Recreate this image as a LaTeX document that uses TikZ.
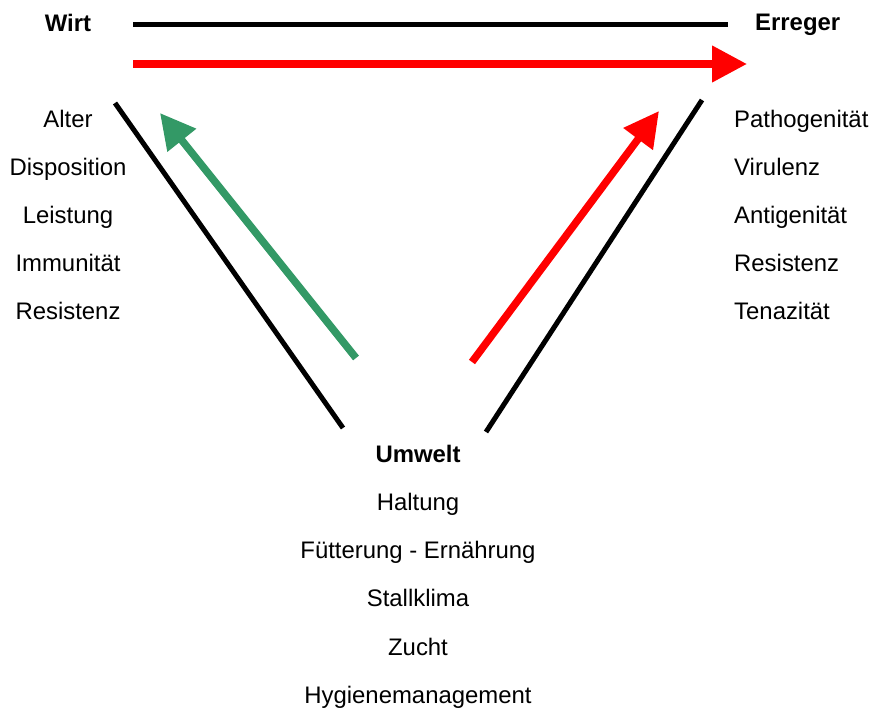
\documentclass[tikz,border=0pt]{standalone}
\usepackage{fontspec}
\setmainfont{Liberation Sans}
\usetikzlibrary{arrows.meta, positioning}
\definecolor{hostgreen}{HTML}{339966}
\definecolor{agentred}{HTML}{FF0000}

\begin{document}
\begin{tikzpicture}[
  x=1pt, y=-1pt,
  item/.style={anchor=base, inner sep=0pt, font=\fontsize{23.9}{28}\selectfont},
  ritem/.style={item, anchor=base west},
  head/.style={inner sep=0pt, font=\fontsize{23.9}{28}\selectfont\bfseries},
  edge/.style={line width=5pt, black},
  flow/.style={-{Triangle[length=35pt, width=35pt]}, line width=7.5pt}
]
\useasboundingbox (0,0) rectangle (871,708);

% host
\node[head, anchor=base] (wirt) at (68,32) {Wirt};
\node[item] (alter) at (68,128) {Alter};
\node[item, below=48pt of alter.base, anchor=base] (dispo) {Disposition};
\node[item, below=48pt of dispo.base, anchor=base] (leist) {Leistung};
\node[item, below=48pt of leist.base, anchor=base] (immun) {Immunität};
\node[item, below=48pt of immun.base, anchor=base] (wres) {Resistenz};

% agent
\node[head, anchor=base west] (erreger) at (755,31) {Erreger};
\node[ritem] (patho) at (734,128) {Pathogenität};
\node[ritem, below=48pt of patho.base west, anchor=base west] (viru) {Virulenz};
\node[ritem, below=48pt of viru.base west, anchor=base west] (antig) {Antigenität};
\node[ritem, below=48pt of antig.base west, anchor=base west] (eres) {Resistenz};
\node[ritem, below=48pt of eres.base west, anchor=base west] (tenaz) {Tenazität};

% environment
\node[head, anchor=base] (umwelt) at (418,463) {Umwelt};
\node[item, below=48pt of umwelt.base, anchor=base] (haltung) {Haltung};
\node[item, below=48pt of haltung.base, anchor=base] (fuett) {Fütterung - Ernährung};
\node[item, below=48pt of fuett.base, anchor=base] (stall) {Stallklima};
\node[item, below=48pt of stall.base, anchor=base] (zucht) {Zucht};
\node[item, below=48pt of zucht.base, anchor=base] (hyg) {Hygienemanagement};

% triangle sides and influences
\coordinate (topl) at (133,25);
\coordinate (topr) at (728,25);
\coordinate (flowl) at (133,64);
\coordinate (flowr) at (747,64);
\coordinate (leftt) at (115,103);
\coordinate (leftb) at (343,428);
\coordinate (rightt) at (702,100);
\coordinate (rightb) at (486,432);
\coordinate (greens) at (356,358);
\coordinate (greene) at (160,113);
\coordinate (reds) at (472,362);
\coordinate (rede) at (659,111);

\draw[edge] (topl) -- (topr);
\draw[edge] (leftt) -- (leftb);
\draw[edge] (rightt) -- (rightb);
\draw[flow, agentred] (flowl) -- (flowr);
\draw[flow, hostgreen] (greens) -- (greene);
\draw[flow, agentred] (reds) -- (rede);

\end{tikzpicture}
\end{document}
